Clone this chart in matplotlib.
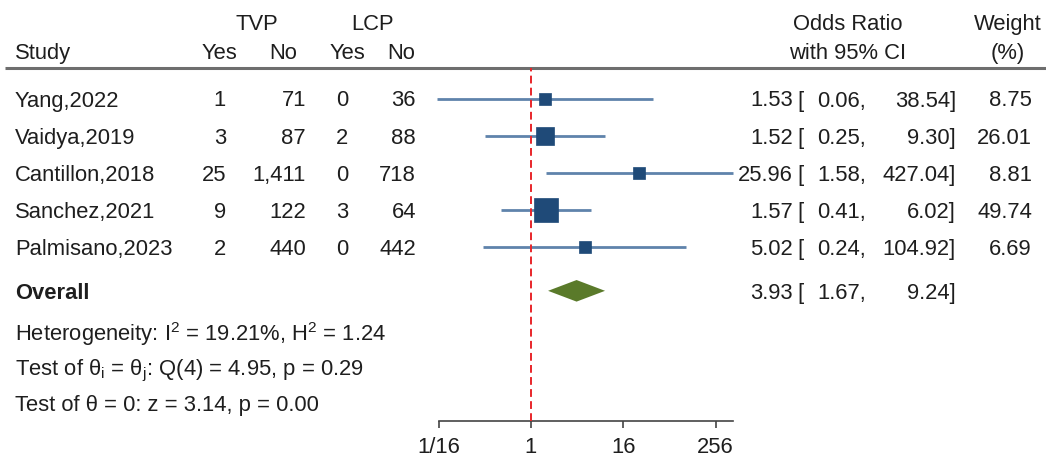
import matplotlib
matplotlib.use("Agg")
import matplotlib.pyplot as plt
from matplotlib import transforms
from matplotlib.ticker import NullLocator
import numpy as np

plt.rcParams['font.family'] = ['Liberation Sans', 'DejaVu Sans']
plt.rcParams['mathtext.fontset'] = 'custom'
plt.rcParams['mathtext.rm'] = 'Liberation Sans'
plt.rcParams['mathtext.default'] = 'regular'

# data
studies = ["Yang,2022", "Vaidya,2019", "Cantillon,2018", "Sanchez,2021", "Palmisano,2023"]
tvp_yes = [1, 3, 25, 9, 2]
tvp_no = [71, 87, 1411, 122, 440]
lcp_yes = [0, 2, 0, 3, 0]
lcp_no = [36, 88, 718, 64, 442]
odds = [1.53, 1.52, 25.96, 1.57, 5.02]
ci_low = [0.06, 0.25, 1.58, 0.41, 0.24]
ci_high = [38.54, 9.30, 427.04, 6.02, 104.92]
weights = [8.75, 26.01, 8.81, 49.74, 6.69]
overall_or = 3.93
overall_low = 1.67
overall_high = 9.24
x_ticks = [1/16, 1, 16, 256]
x_tick_labels = ["1/16", "1", "16", "256"]
stats_lines = [
    "Heterogeneity: I$^2$ = 19.21%, H$^2$ = 1.24",
    "Test of θ$_i$ = θ$_j$: Q(4) = 4.95, p = 0.29",
    "Test of θ = 0: z = 3.14, p = 0.00",
]

W, H = 1046, 459
TXT = '#1e1e1e'
FS = 15.8

fig = plt.figure(figsize=(W / 100, H / 100), dpi=100)

# whole-figure axes for the table text (pixel units)
canvas = fig.add_axes([0, 0, 1, 1])
canvas.set_xlim(0, W)
canvas.set_ylim(H, 0)
canvas.axis('off')

# forest plot axes
left, right, top, bottom = 420, 750, 68, 421
ax = fig.add_axes([left / W, 1 - bottom / H, (right - left) / W, (bottom - top) / H])
ax.patch.set_visible(False)
px_one, px_per_log2 = 531, 23.08
ax.set_xscale('log', base=2)
ax.set_xlim(2 ** ((left - px_one) / px_per_log2), 2 ** ((right - px_one) / px_per_log2))
row0, row_h = 98.5, 37.2
ax.set_ylim((bottom - row0) / row_h, (top - row0) / row_h)

trans = transforms.blended_transform_factory(canvas.transData, ax.transData)

rows = np.arange(len(studies))
overall_y = 5.17
stats_y = [6.25, 7.22, 8.19]

# CI lines and weighted squares
for y, o, lo, hi, w in zip(rows, odds, ci_low, ci_high, weights):
    ax.plot([lo, hi], [y, y], color='#5f83ab', lw=2.0, solid_capstyle='butt', zorder=2)
    side = 4.2 + 2.75 * np.sqrt(w)
    ax.plot(o, y, marker='s', ms=side * 0.72, color='#1f4a78', mec='#1f4a78', mew=0.5, zorder=4)

# overall diamond
dh = 0.29
ax.fill([overall_low, overall_or, overall_high, overall_or],
        [overall_y, overall_y - dh, overall_y, overall_y + dh],
        color='#5a7a2a', lw=0, zorder=4)

# null line
ax.axvline(1, color='#e8262a', lw=1.4, dashes=(4, 2.2), zorder=3)

# axis
for s in ['top', 'left', 'right']:
    ax.spines[s].set_visible(False)
ax.spines['bottom'].set_bounds(1/16, max(ci_high))
ax.spines['bottom'].set_color('#444444')
ax.spines['bottom'].set_linewidth(1.2)
ax.set_yticks([])
ax.set_xticks(x_ticks, x_tick_labels)
ax.xaxis.set_minor_locator(NullLocator())
ax.tick_params(axis='x', direction='out', length=5, width=1.2, color='#444444',
               labelsize=FS, labelcolor=TXT, pad=6.5)

# header rule
canvas.plot([5, W], [68, 68], color='#6e6e6e', lw=2.2, solid_capstyle='butt')

# headers
hy1, hy2 = -2.06, -1.28
kw = dict(transform=trans, fontsize=FS, color=TXT, va='center_baseline')
canvas.text(257, hy1, "TVP", ha='center', **kw)
canvas.text(373, hy1, "LCP", ha='center', **kw)
canvas.text(15, hy2, "Study", ha='left', **kw)
canvas.text(219, hy2, "Yes", ha='center', **kw)
canvas.text(283, hy2, "No", ha='center', **kw)
canvas.text(347, hy2, "Yes", ha='center', **kw)
canvas.text(415, hy2, "No", ha='right', **kw)
canvas.text(848, hy1, "Odds Ratio", ha='center', **kw)
canvas.text(848, hy2, "with 95% CI", ha='center', **kw)
canvas.text(1008, hy1, "Weight", ha='center', **kw)
canvas.text(1008, hy2, "(%)", ha='center', **kw)

# study rows
for y, name, a, b, c, d, o, lo, hi, w in zip(rows, studies, tvp_yes, tvp_no, lcp_yes, lcp_no,
                                             odds, ci_low, ci_high, weights):
    canvas.text(15, y, name, ha='left', **kw)
    canvas.text(226, y, f"{a:,}", ha='right', **kw)
    canvas.text(306, y, f"{b:,}", ha='right', **kw)
    canvas.text(348, y, f"{c:,}", ha='right', **kw)
    canvas.text(416, y, f"{d:,}", ha='right', **kw)
    canvas.text(793, y, f"{o:.2f}", ha='right', **kw)
    canvas.text(797, y, "[", ha='left', **kw)
    canvas.text(866, y, f"{lo:.2f},", ha='right', **kw)
    canvas.text(956, y, f"{hi:.2f}]", ha='right', **kw)
    canvas.text(1032, y, f"{w:.2f}", ha='right', **kw)

# overall row
canvas.text(15, overall_y, "Overall", ha='left', fontweight='bold', **kw)
canvas.text(793, overall_y, f"{overall_or:.2f}", ha='right', **kw)
canvas.text(797, overall_y, "[", ha='left', **kw)
canvas.text(866, overall_y, f"{overall_low:.2f},", ha='right', **kw)
canvas.text(956, overall_y, f"{overall_high:.2f}]", ha='right', **kw)

for y, s in zip(stats_y, stats_lines):
    canvas.text(15, y, s, ha='left', **kw)

fig.savefig("out.png", dpi=100)
